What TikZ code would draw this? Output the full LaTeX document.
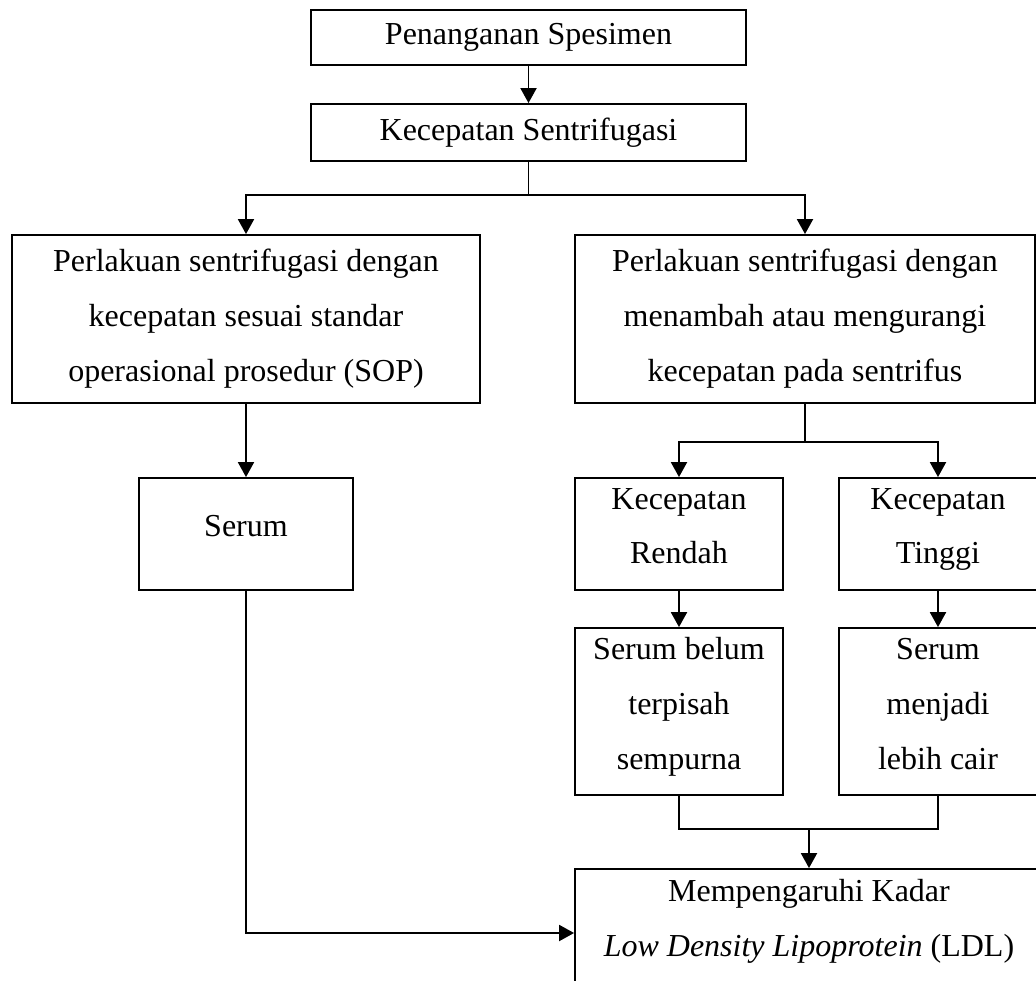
\documentclass[tikz,border=0pt]{standalone}
\usepackage{fontspec}
\setmainfont{Liberation Serif}
\usetikzlibrary{arrows.meta}

\begin{document}
\begin{tikzpicture}[x=0.375pt, y=-0.375pt, line width=0.7pt,
  box/.style={draw=black, rectangle, inner sep=0pt, align=center, font=\fontsize{12}{20.6}\selectfont},
  small/.style={box, text depth=6pt},
  arr/.style={-{Triangle[width=6pt,length=5.6pt]}}]

\useasboundingbox (0,0) rectangle (1036,981);

\node[box, minimum width=163.1pt, minimum height=20.6pt] (spes) at (528.5,37.5) {Penanganan Spesimen};

\node[box, minimum width=163.1pt, minimum height=21.4pt] (kec) at (528.5,132.5) {Kecepatan Sentrifugasi};

\node[box, minimum width=175.5pt, minimum height=63pt] (sop) at (246,319) {Perlakuan sentrifugasi dengan\\ kecepatan sesuai standar\\ operasional prosedur (SOP)};
\node[box, minimum width=172.5pt, minimum height=63pt] (tambah) at (805,319) {Perlakuan sentrifugasi dengan\\ menambah atau mengurangi\\ kecepatan pada sentrifus};

\node[small, minimum width=80pt, minimum height=42pt] (serum) at (246,534) {Serum};

\node[small, minimum width=78pt, minimum height=42pt] (rendah) at (679,534) {Kecepatan\\ Rendah};
\node[small, minimum width=74.25pt, minimum height=42pt] (tinggi) at (938,534) {Kecepatan\\ Tinggi};

\node[small, minimum width=78pt, minimum height=62.6pt] (belum) at (679,711.5) {Serum belum\\ terpisah\\ sempurna};
\node[small, minimum width=74.25pt, minimum height=62.6pt] (cair) at (938,711.5) {Serum\\ menjadi\\ lebih cair};

\node[box, text depth=11.5pt, minimum width=175.5pt, minimum height=48pt] (ldl) at (809,933) {Mempengaruhi Kadar\\ \textit{Low Density Lipoprotein} (LDL)};

% connectors
\draw (kec.south) -- ++(0,33) coordinate (split);
\draw[arr] (split) -| (sop.north);
\draw[arr] (split) -| (tambah.north);
\draw[arr] (spes.south) -- (kec.north);
\draw[arr] (sop.south) -- (serum.north);

\draw (tambah.south) -- ++(0,38) coordinate (split2);
\draw[arr] (split2) -| (rendah.north);
\draw[arr] (split2) -| (tinggi.north);
\draw[arr] (rendah.south) -- (belum.north);
\draw[arr] (tinggi.south) -- (cair.north);

\coordinate (join) at (809,829);
\draw (belum.south) |- (join) -| (cair.south);
\draw[arr] (join) -- (ldl.north);
\draw[arr] (serum.south) |- (ldl.west);
\end{tikzpicture}
\end{document}
